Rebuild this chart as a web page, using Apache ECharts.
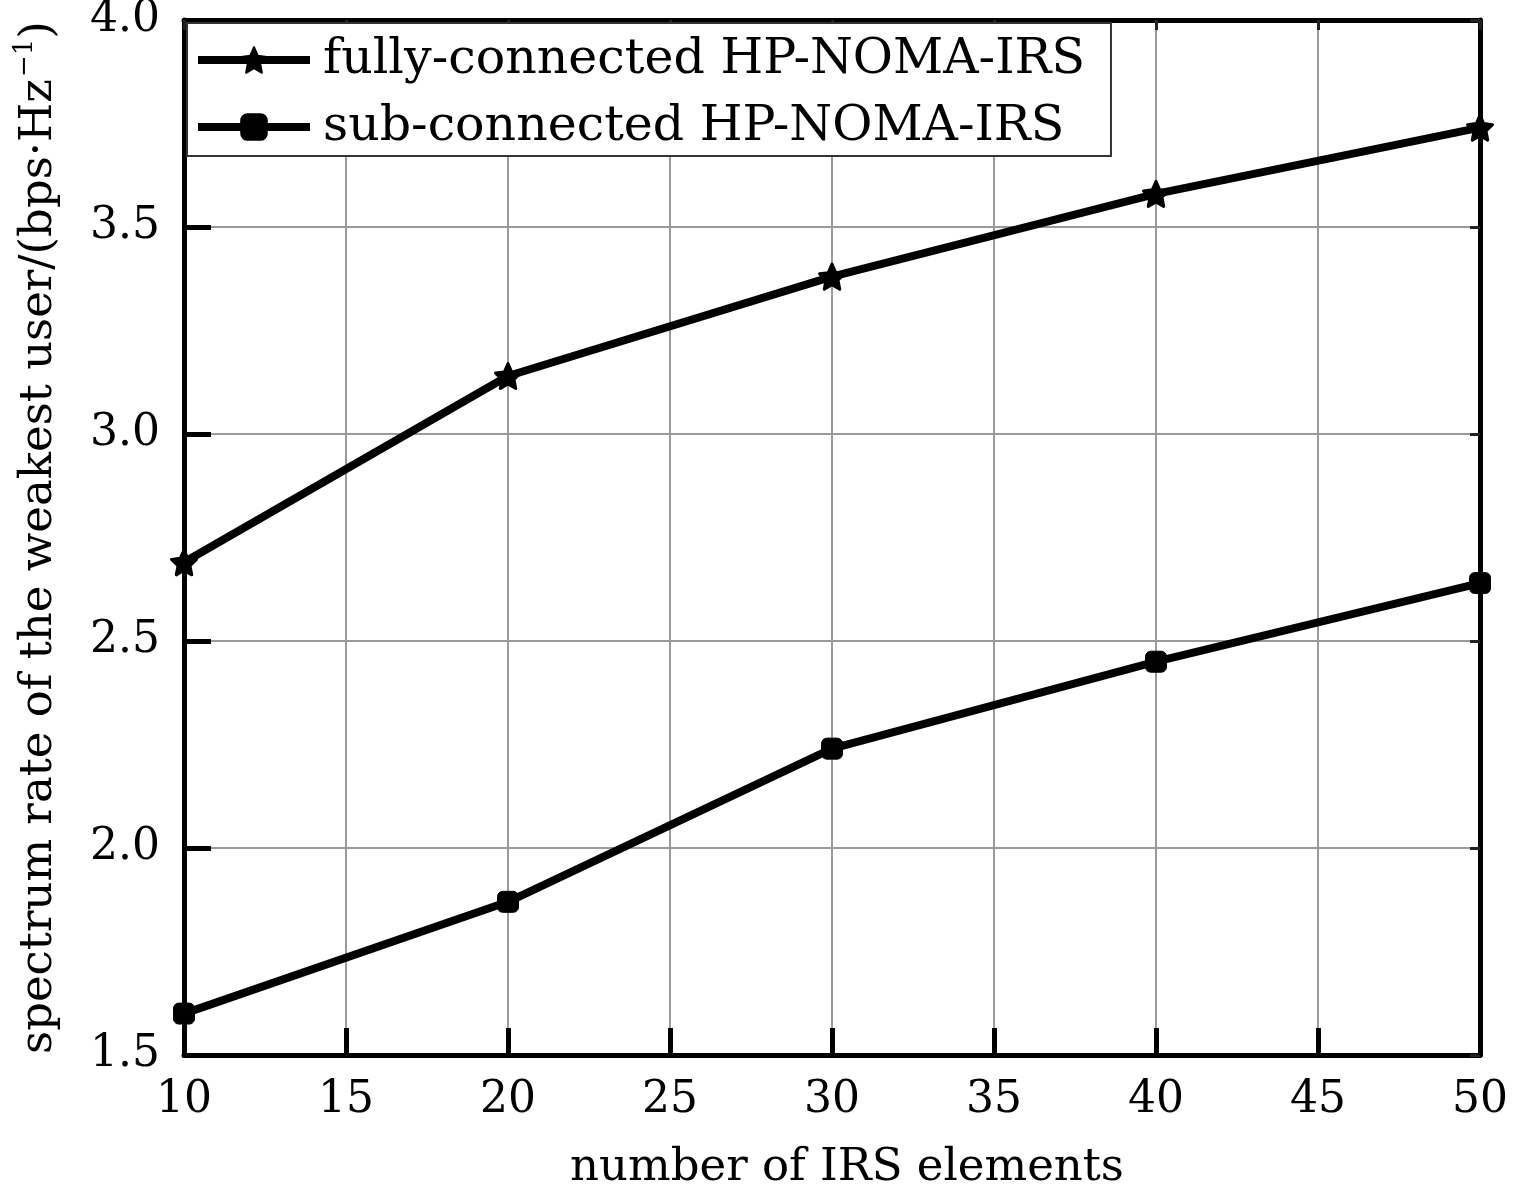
<!DOCTYPE html>
<html>
<head>
<meta charset="utf-8">
<script src="https://cdn.jsdelivr.net/npm/echarts@6/dist/echarts.min.js"></script>
<style>
html,body{margin:0;padding:0;background:#fff;}
#chart{width:1516px;height:1190px;}
</style>
</head>
<body>
<div id="chart"></div>
<script>
var xValues = [10, 20, 30, 40, 50];
var fullyConnected = [2.69, 3.14, 3.38, 3.58, 3.74];
var subConnected = [1.60, 1.87, 2.24, 2.45, 2.64];
var seriesNames = ['fully-connected HP-NOMA-IRS', 'sub-connected HP-NOMA-IRS'];
var xAxisName = 'number of IRS elements';
var yAxisNameMain = 'spectrum rate of the weakest user/(bps\u00B7Hz';
var yAxisNameSup = '\u22121';
var yAxisNameEnd = ')';

var FONT = "'DejaVu Serif', 'Liberation Serif', serif";
var FS = 44;
var FS_NAME = 45;
var FS_LEG = 49;
var starPath = 'path://M50 0 L64.11 30.58 L97.55 34.55 L72.83 57.42 L79.39 90.45 L50 74 L20.61 90.45 L27.17 57.42 L2.45 34.55 L35.89 30.58 Z';

function pairs(ys){ return xValues.map(function(x,i){ return [x, ys[i]]; }); }

var chart = echarts.init(document.getElementById('chart'), null, {renderer:'canvas'});
var option = {
  backgroundColor: '#fff',
  animation: false,
  grid: {left: 184, right: 36, top: 20, bottom: 135, containLabel: false, outerBoundsMode: 'none'},
  legend: {
    orient: 'vertical',
    left: 187, top: 23,
    backgroundColor: '#fff',
    borderColor: '#333',
    borderWidth: 2,
    borderRadius: 0,
    padding: [8, 26, 0, 7],
    itemWidth: 112,
    itemHeight: 32,
    itemGap: 9,
    lineStyle: {width: 8, color: '#000'},
    textStyle: {fontFamily: FONT, fontSize: FS_LEG, color: '#000', lineHeight: 58, padding:[0,0,0,8]},
    data: seriesNames
  },
  xAxis: [{
    type: 'value', min: 10, max: 50, interval: 5,
    name: xAxisName, nameLocation: 'middle', nameGap: 91,
    nameTextStyle: {fontFamily: FONT, fontSize: FS_NAME, color: '#000', padding: [0,0,0,30]},
    axisLine: {show: true, lineStyle: {color: '#000', width: 5}},
    axisTick: {show: true, inside: true, length: 27, lineStyle: {color: '#000', width: 5}},
    axisLabel: {fontFamily: FONT, fontSize: FS, color: '#000', margin: 24},
    splitLine: {show: true, lineStyle: {color: '#9a9a9a', width: 2}}
  }, {
    type: 'value', min: 10, max: 50, interval: 5, position: 'top',
    axisLine: {show: true, lineStyle: {color: '#000', width: 5}},
    axisTick: {show: true, inside: true, length: 10, lineStyle: {color: '#222', width: 3}},
    axisLabel: {show: false},
    splitLine: {show: false}
  }],
  yAxis: [{
    type: 'value', min: 1.5, max: 4.0, interval: 0.5,
    name: '{a|' + yAxisNameMain + '}{s|' + yAxisNameSup + '}{a|' + yAxisNameEnd + '}',
    nameLocation: 'middle', nameGap: 118, nameRotate: 90,
    nameTextStyle: {
      fontFamily: FONT, fontSize: FS_NAME, color: '#000',
      rich: {
        a: {fontFamily: FONT, fontSize: FS_NAME, color: '#000', lineHeight: 54},
        s: {fontFamily: FONT, fontSize: 26, color: '#000', verticalAlign: 'top', lineHeight: 28, padding: [0,0,0,2]}
      }
    },
    axisLine: {show: true, lineStyle: {color: '#000', width: 5}},
    axisTick: {show: true, inside: true, length: 27, lineStyle: {color: '#000', width: 5}},
    axisLabel: {fontFamily: FONT, fontSize: FS, color: '#000', margin: 24, formatter: function(v){ return v.toFixed(1); }},
    splitLine: {show: true, lineStyle: {color: '#9a9a9a', width: 2}}
  }, {
    type: 'value', min: 1.5, max: 4.0, interval: 0.5, position: 'right',
    axisLine: {show: true, lineStyle: {color: '#000', width: 5}},
    axisTick: {show: true, inside: true, length: 10, lineStyle: {color: '#222', width: 3}},
    axisLabel: {show: false},
    splitLine: {show: false}
  }],
  series: [{
    name: seriesNames[0], type: 'line', data: pairs(fullyConnected),
    xAxisIndex: 0, yAxisIndex: 0,
    symbol: starPath, symbolSize: 25, showAllSymbol: true,
    lineStyle: {color: '#000', width: 8},
    itemStyle: {color: '#000', borderColor: '#000', borderWidth: 3, borderJoin: 'round'},
    z: 3
  }, {
    name: seriesNames[1], type: 'line', data: pairs(subConnected),
    xAxisIndex: 0, yAxisIndex: 0,
    symbol: 'roundRect', symbolSize: 21, showAllSymbol: true,
    lineStyle: {color: '#000', width: 8},
    itemStyle: {color: '#000', borderColor: '#000', borderWidth: 1},
    z: 3
  }]
};
chart.setOption(option);
</script>
</body>
</html>
